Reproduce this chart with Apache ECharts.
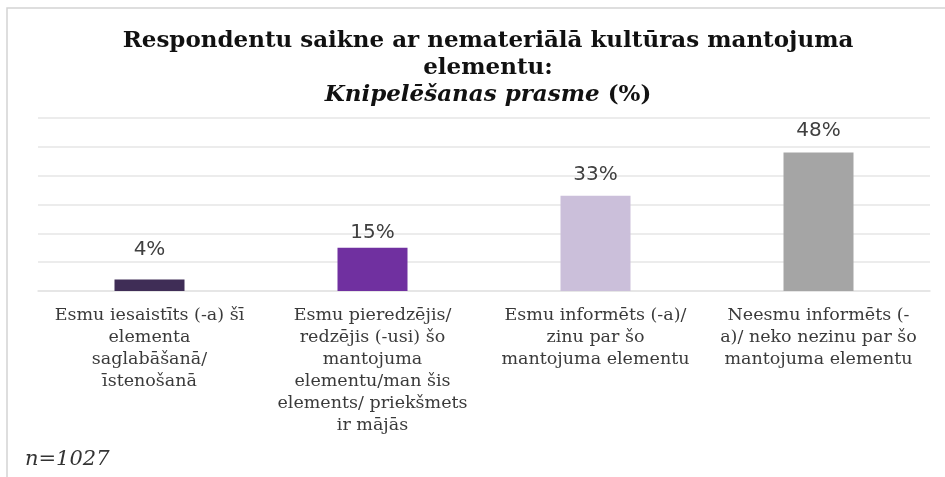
<!DOCTYPE html>
<html>
<head>
<meta charset="utf-8">
<script src="https://cdn.jsdelivr.net/npm/echarts@6/dist/echarts.min.js"></script>
<style>
  html, body { margin: 0; padding: 0; background: #fff; }
  #chart { width: 945px; height: 477px; }
</style>
</head>
<body>
<div id="chart"></div>
<script>
const categories = [
  'Esmu iesaistīts (-a) šī\nelementa\nsaglabāšanā/\nīstenošanā',
  'Esmu pieredzējis/\nredzējis (-usi) šo\nmantojuma\nelementu/man šis\nelements/ priekšmets\nir mājās',
  'Esmu informēts (-a)/\nzinu par šo\nmantojuma elementu',
  'Neesmu informēts (-\na)/ neko nezinu par šo\nmantojuma elementu'
];
const values = [4, 15, 33, 48];
const barColors = ['#3f2d56', '#7030a0', '#cbbfda', '#a5a5a5'];
const labelGaps = [20, 5, 11, 12];
const sampleNote = 'n=1027';

const chart = echarts.init(document.getElementById('chart'));

const option = {
  backgroundColor: '#fff',
  animation: false,
  title: {
    text: 'Respondentu saikne ar nemateriālā kultūras mantojuma\nelementu:\n{i|Knipelēšanas prasme} (%)',
    left: 483,
    top: 23,
    textAlign: 'center',
    textStyle: {
      fontFamily: 'DejaVu Serif',
      fontWeight: 'bold',
      fontSize: 23,
      lineHeight: 27,
      color: '#111',
      rich: {
        i: {
          fontFamily: 'DejaVu Serif',
          fontWeight: 'bold',
          fontStyle: 'italic',
          fontSize: 23,
          lineHeight: 27,
          color: '#111'
        }
      }
    }
  },
  grid: {
    left: 38,
    right: 15,
    top: 118,
    bottom: 186
  },
  xAxis: {
    type: 'category',
    data: categories,
    axisTick: { show: false },
    axisLine: { lineStyle: { color: '#e3e3e3', width: 1.5 } },
    axisLabel: {
      interval: 0,
      margin: 13,
      fontFamily: 'DejaVu Serif',
      fontSize: 17.5,
      lineHeight: 22,
      color: '#3a3a3a',
      align: 'center'
    }
  },
  yAxis: {
    type: 'value',
    min: 0,
    max: 60,
    interval: 10,
    axisLabel: { show: false },
    axisLine: { show: false },
    axisTick: { show: false },
    splitLine: { lineStyle: { color: '#e6e6e6', width: 1.5 } }
  },
  series: [
    {
      type: 'bar',
      barWidth: 70,
      data: values.map((v, i) => ({
        value: v,
        itemStyle: { color: barColors[i] },
        label: { distance: labelGaps[i] }
      })),
      label: {
        show: true,
        position: 'top',
        formatter: '{c}%',
        fontFamily: 'DejaVu Sans',
        fontSize: 20,
        color: '#404040'
      }
    }
  ],
  graphic: [
    {
      type: 'polyline',
      shape: { points: [[7, 477], [7, 8], [945, 8]] },
      style: { stroke: '#d4d4d4', lineWidth: 1.5, fill: null }
    },
    {
      type: 'text',
      left: 25,
      top: 449,
      style: {
        text: sampleNote,
        fontFamily: 'DejaVu Serif',
        fontStyle: 'italic',
        fontSize: 21,
        fill: '#333'
      }
    }
  ]
};

chart.setOption(option);
</script>
</body>
</html>
